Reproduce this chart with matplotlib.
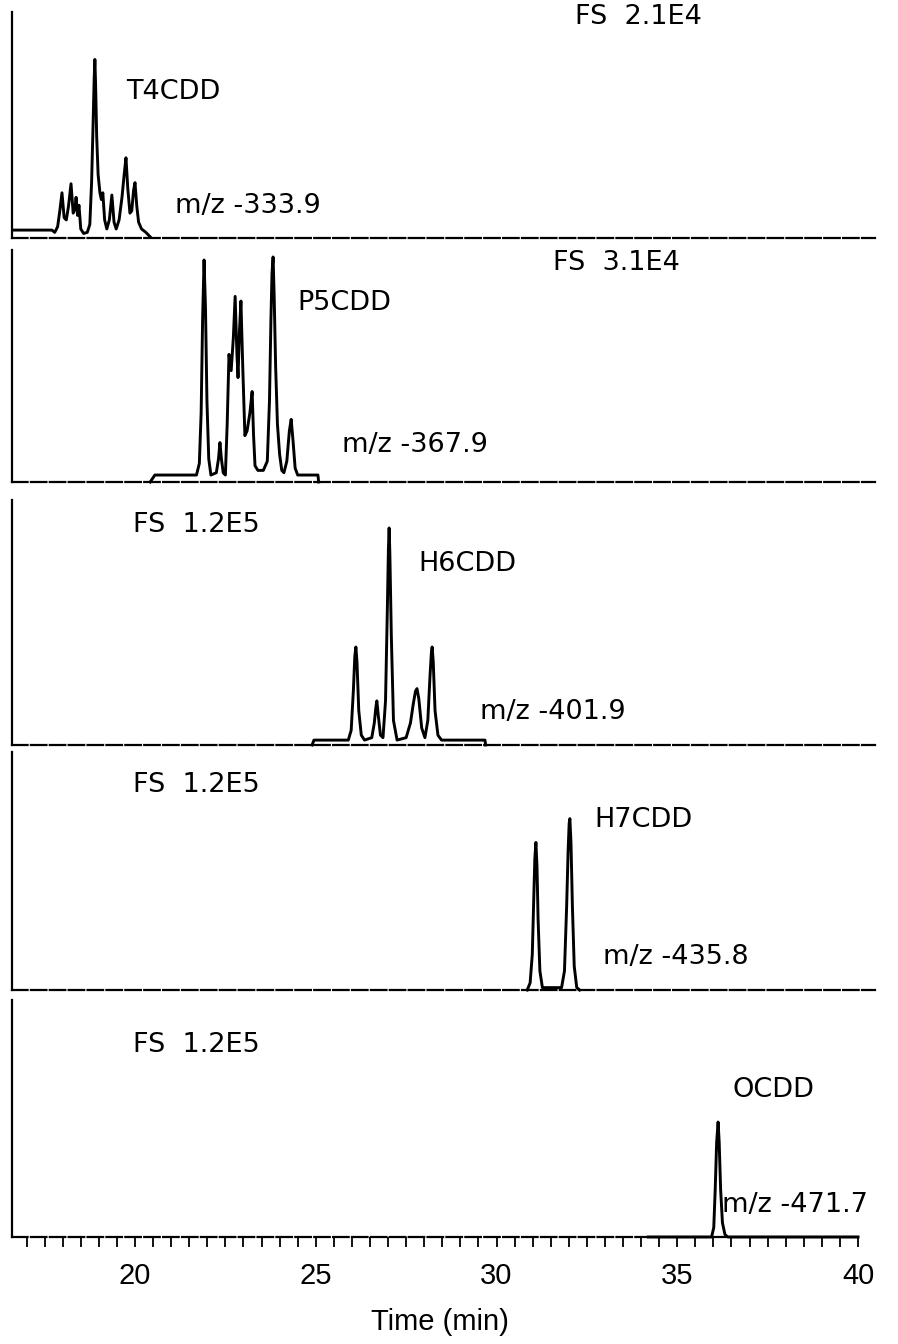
import matplotlib
matplotlib.use("Agg")
import matplotlib.pyplot as plt
from matplotlib.ticker import MultipleLocator

# ---------------- data ----------------
# retention time (min) and intensity (% of each panel's full scale)
t4_time = [16.62, 17.70, 17.78, 17.86, 17.92, 17.98, 18.04, 18.10, 18.16, 18.23,
           18.29, 18.34, 18.37, 18.41, 18.45, 18.50, 18.58, 18.68, 18.75, 18.80,
           18.84, 18.87, 18.89, 18.91, 18.94, 18.98, 19.03, 19.07, 19.11, 19.16,
           19.22, 19.29, 19.36, 19.42, 19.48, 19.56, 19.64, 19.70, 19.75, 19.80,
           19.86, 19.91, 19.96, 20.00, 20.05, 20.10, 20.18, 20.30, 20.42]
t4_int = [3.5, 3.5, 2.5, 5, 12, 20, 9, 8, 14, 24,
          11, 13, 18, 10, 14.5, 4, 2, 2.5, 6, 25,
          50, 70, 79, 68, 45, 28, 20, 17, 20, 8,
          4, 8, 19, 7, 4, 8, 18, 28, 35.5, 22,
          11, 12, 21, 24.5, 14, 7, 4, 2.5, 0.5]

p5_time = [20.42, 20.55, 21.70, 21.78, 21.83, 21.87, 21.91, 21.95, 21.99, 22.04,
           22.10, 22.25, 22.31, 22.35, 22.39, 22.44, 22.50, 22.55, 22.60, 22.66,
           22.72, 22.77, 22.82, 22.85, 22.89, 22.93, 22.98, 23.04, 23.10, 23.18,
           23.24, 23.28, 23.32, 23.40, 23.55, 23.66, 23.72, 23.76, 23.79, 23.82,
           23.85, 23.89, 23.94, 24.00, 24.06, 24.12, 24.20, 24.27, 24.32, 24.37,
           24.43, 24.50, 24.90, 25.06, 25.08]
p5_int = [0, 3, 3, 8, 30, 70, 95.7, 75, 35, 10,
          3, 4, 10, 17, 10, 4, 3, 25, 55, 48,
          62, 80, 55, 45, 65, 78, 50, 20, 22, 30,
          39, 20, 7, 5, 5, 9, 35, 70, 90, 97,
          80, 50, 25, 12, 5, 4, 9, 22, 27, 18,
          6, 3, 3, 3, 0]

h6_time = [24.90, 24.95, 25.90, 25.98, 26.04, 26.08, 26.11, 26.14, 26.19, 26.26,
           26.35, 26.55, 26.62, 26.66, 26.69, 26.73, 26.79, 26.86, 26.93, 26.98,
           27.01, 27.03, 27.05, 27.09, 27.15, 27.25, 27.50, 27.62, 27.70, 27.76,
           27.80, 27.85, 27.93, 28.02, 28.10, 28.16, 28.20, 28.22, 28.25, 28.30,
           28.38, 28.48, 29.68, 29.70]
h6_int = [0, 2, 2, 6, 22, 36, 40, 34, 14, 4,
          2, 3, 9, 15, 18, 12, 4, 3, 18, 55,
          80, 88.6, 78, 45, 10, 2, 3, 9, 17, 22,
          23, 19, 7, 3, 10, 28, 38, 40, 34, 14,
          4, 2, 2, 0]

h7_time = [30.85, 30.93, 30.99, 31.03, 31.06, 31.09, 31.12, 31.15, 31.20, 31.27,
           31.80, 31.88, 31.94, 31.98, 32.01, 32.03, 32.06, 32.10, 32.15, 32.22,
           32.30]
h7_int = [0, 3, 15, 38, 55, 62, 52, 30, 8, 1,
          1, 8, 35, 58, 70, 72, 62, 35, 10, 1,
          0]

o8_time = [34.20, 35.95, 36.01, 36.05, 36.09, 36.13, 36.16, 36.20, 36.25, 36.32,
           36.40, 40.0]
o8_int = [0, 0, 4, 20, 40, 48.5, 40, 20, 6, 1,
          0, 0]

compounds = ["T4CDD", "P5CDD", "H6CDD", "H7CDD", "OCDD"]
mz_labels = ["m/z -333.9", "m/z -367.9", "m/z -401.9", "m/z -435.8", "m/z -471.7"]
fs_labels = ["FS  2.1E4", "FS  3.1E4", "FS  1.2E5", "FS  1.2E5", "FS  1.2E5"]
x_ticks = [20, 25, 30, 35, 40]
x_label = "Time (min)"

traces = [(t4_time, t4_int), (p5_time, p5_int), (h6_time, h6_int),
          (h7_time, h7_int), (o8_time, o8_int)]

# ---------------- layout (pixels) ----------------
W, H = 898, 1344
fig = plt.figure(figsize=(W / 100, H / 100), dpi=100)

def t_of(x):
    return 20 + (x - 135) / 36.15

left_px, right_px = 12, 875
panels = [(12, 238), (250, 482), (500, 745), (752, 990), (1000, 1237)]

# text positions (left px, center px) : FS, compound, m/z
fs_pos = [(575, 17), (553, 263), (133, 525), (133, 785), (133, 1045)]
cmp_pos = [(126, 92), (297, 303), (418, 564), (594, 820), (732, 1090)]
mz_pos = [(175, 206), (342, 445), (480, 712), (603, 957), (722, 1205)]

lab_font = dict(family="DejaVu Sans", fontsize=19.5, color="black")

def ftext(x, y, s, **kw):
    fig.text(x / W, 1 - y / H, s, va="center", **kw)

for i, ((top, base), (tx, ty)) in enumerate(zip(panels, traces)):
    ax = fig.add_axes([left_px / W, 1 - base / H, (right_px - left_px) / W, (base - top) / H])
    ax.set_xlim(t_of(left_px), t_of(right_px))
    ax.set_ylim(0, 100)
    ax.plot(tx, ty, color="black", lw=2.1, solid_joinstyle="round", clip_on=False)
    for s in ["top", "right"]:
        ax.spines[s].set_visible(False)
    ax.spines["left"].set_linewidth(1.6)
    ax.spines["bottom"].set_linewidth(1.6)
    ax.spines["bottom"].set_linestyle((0, (7, 1.5)))
    ax.set_yticks([])
    ax.patch.set_alpha(0)
    if i < 4:
        ax.set_xticks([])
    else:
        ax.spines["bottom"].set_bounds(t_of(left_px), 40)
        ax.set_xticks(x_ticks)
        ax.xaxis.set_minor_locator(MultipleLocator(0.5))
        ax.tick_params(axis="x", which="both", direction="out", length=7,
                       width=1.3, color="black")
        ax.tick_params(axis="x", which="major", pad=11, labelsize=21)
        for lb in ax.get_xticklabels():
            lb.set_family("Liberation Sans")
    ftext(*fs_pos[i], fs_labels[i], ha="left", **lab_font)
    ftext(*cmp_pos[i], compounds[i], ha="left", **lab_font)
    ftext(*mz_pos[i], mz_labels[i], ha="left", **lab_font)

fig.text(440 / W, 1 - 1322 / H, x_label, ha="center", va="center",
         family="Liberation Sans", fontsize=21)

fig.savefig("out.png", dpi=100)
